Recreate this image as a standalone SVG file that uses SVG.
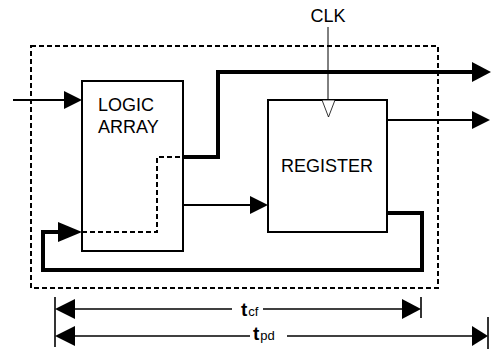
<svg xmlns="http://www.w3.org/2000/svg" width="491" height="349" viewBox="0 0 491 349">
<defs>
<style>
.lbl{font-family:"Liberation Sans",Arial,sans-serif;font-size:18px;fill:#000}
.box{fill:#fff;stroke:#000;stroke-width:2}
.thin{fill:none;stroke:#000;stroke-width:2}
.thick{fill:none;stroke:#000;stroke-width:4}
.dash{fill:none;stroke:#000;stroke-width:2;stroke-dasharray:5,3}
.dim{fill:none;stroke:#000;stroke-width:1.6}
.t{font-family:"Liberation Sans",Arial,sans-serif;font-weight:bold;font-size:19px}
.sub{font-family:"Liberation Sans",Arial,sans-serif;font-size:13px}
</style>
</defs>
<rect x="31" y="46" width="407" height="242" class="dash"/>
<g id="logic-array">
<rect x="82" y="81" width="101" height="170" class="box"/>
<text class="lbl" x="98" y="111">LOGIC</text>
<text class="lbl" x="98" y="133">ARRAY</text>
</g>
<g id="register">
<rect x="268" y="100" width="119" height="132" class="box"/>
<polygon points="322,100 335,100 328.5,117" fill="#fff" stroke="#000" stroke-width="0.8"/>
<text class="lbl" x="327" y="172" text-anchor="middle">REGISTER</text>
</g>
<g id="clk">
<text class="lbl" x="328" y="22" text-anchor="middle">CLK</text>
</g>
<g id="connectors">
<line x1="13" y1="100" x2="66" y2="100" class="thin"/>
<polygon points="64,91 82,100 64,109"/>
<line x1="328" y1="27" x2="328" y2="100" stroke="#000" stroke-width="1"/>
<polyline points="183,157 218,157 218,72 474,72" class="thick"/>
<polygon points="472,62 491,72 472,82"/>
<line x1="387" y1="120" x2="474" y2="120" class="thin"/>
<polygon points="472,111 490,120 472,129"/>
<line x1="183" y1="205" x2="252" y2="205" class="thin"/>
<polygon points="250,196 268,205 250,214"/>
<polyline points="387,213 422,213 422,270 43,270 43,232 60,232" class="thick"/>
<polygon points="58,222 82,232 58,242"/>
<polyline points="82,232 157,232 157,157 183,157" class="dash"/>
</g>
<g id="dimensions">
<line x1="55" y1="297" x2="55" y2="347" class="dim"/>
<line x1="421" y1="297" x2="421" y2="318" class="dim"/>
<line x1="488" y1="317" x2="488" y2="349" class="dim"/>
<line x1="73" y1="309" x2="232" y2="309" class="dim"/>
<line x1="263" y1="309" x2="404" y2="309" class="dim"/>
<polygon points="55,309 75,299 75,319"/>
<polygon points="421,309 402,299 402,319"/>
<text x="241" y="316"><tspan class="t">t</tspan><tspan class="sub" dx="1">cf</tspan></text>
<line x1="73" y1="336" x2="250" y2="336" class="dim"/>
<line x1="287" y1="336" x2="474" y2="336" class="dim"/>
<polygon points="55,336 75,326 75,346"/>
<polygon points="488,336 472,326 472,346"/>
<text x="253" y="340"><tspan class="t">t</tspan><tspan class="sub" dx="1">pd</tspan></text>
</g>
</svg>
